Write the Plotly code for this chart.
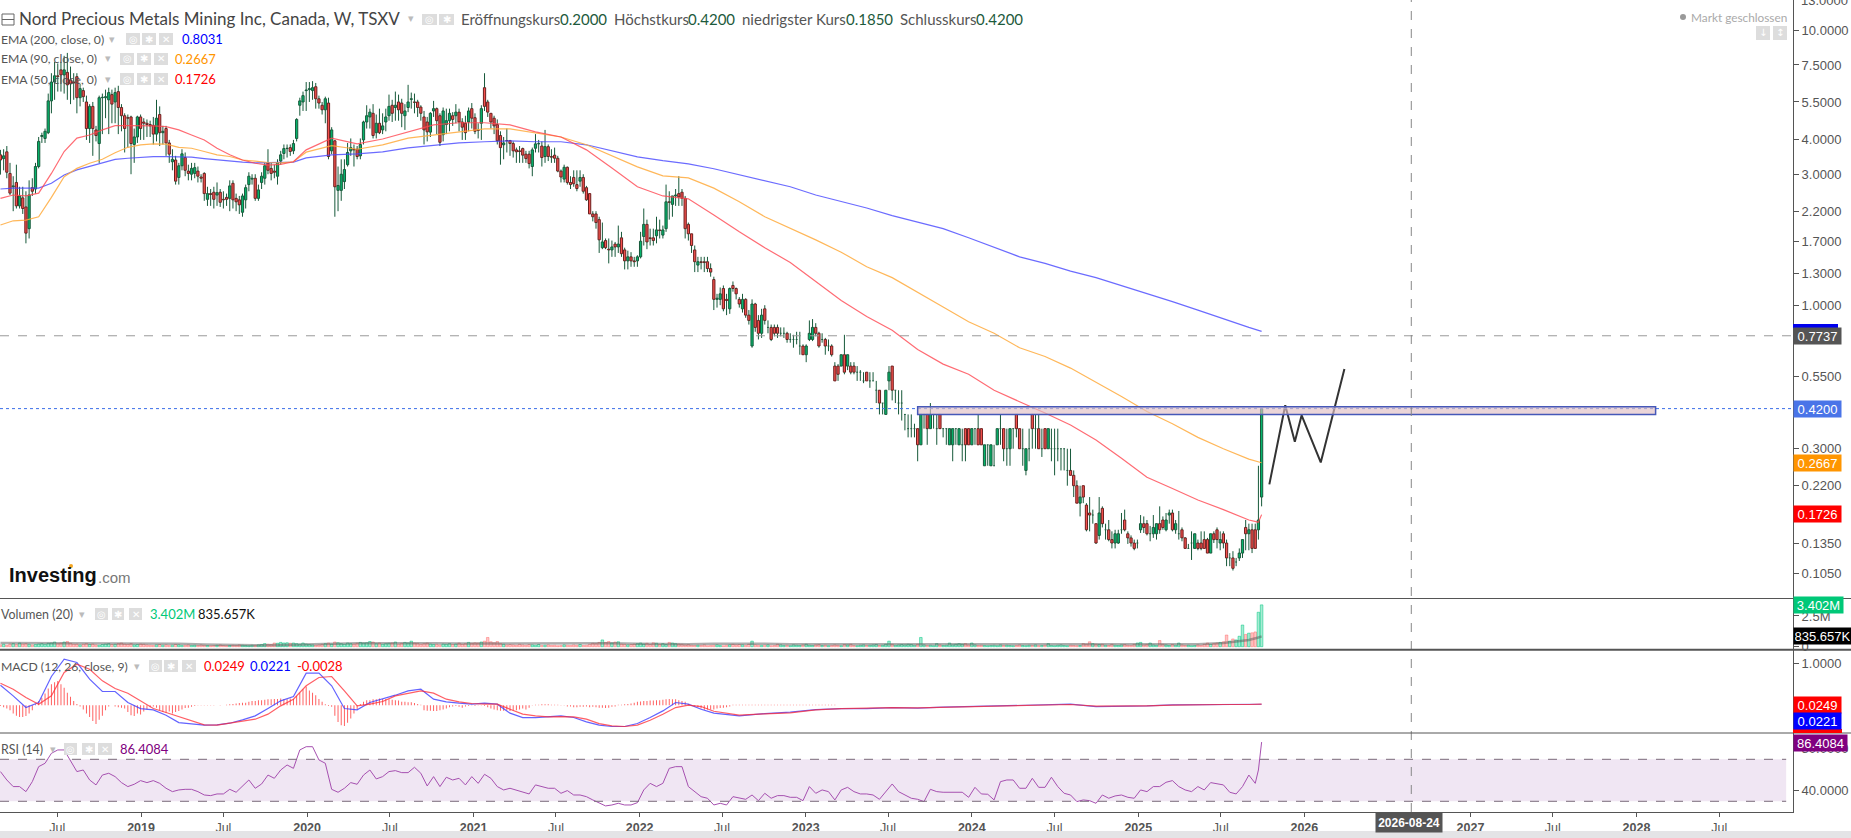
import pandas as pd
import plotly.graph_objects as go

W, H = 1851, 838
AXIS_X = 1793

# Wochenkerzen
opens = [
    3.53,3.42,3.62,3.02,2.7,2.8,2.3,2.46,2.28,1.9, 2.68,2.65,3.2,4.12,4.05,4.25,5.55,6.5,6.85,7.2,
    6.9,7.05,6.62,6.5,6.8,5.7,6.05,5.5,4.4,5.3, 4.35,3.88,5.7,5.7,5.6,5.85,5.5,6.0,5.25,4.9,
    4.82,4.85,3.85,4.1,4.85,4.65,4.6,4.55,4.52,4.2, 4.95,4.25,4.4,3.9,3.33,3.38,2.92,3.22,3.45,3.08,
    3.0,3.02,3.08,2.93,3.02,2.43,2.55,2.58,2.52,2.58, 2.43,2.47,2.45,2.78,2.45,2.42,2.18,2.42,2.75,2.88,
    2.9,2.45,2.8,2.9,3.3,3.15,3.08,2.95,3.35,3.57, 3.72,3.75,3.65,4.05,5.35,
    5.5,6.05,6.1,6.05,6.25, 5.65,5.35,5.15,5.45,3.65,3.97,2.62,2.62,2.82,3.25,
    3.65,3.7,3.7,3.5,4.0,4.65,4.85,5.0,4.25,4.6, 4.35,4.65,4.9,5.35,5.25,5.5,5.45,4.9,5.25,5.62,
    5.5,5.5,5.27,4.85,4.65,4.27,5.1,5.2,4.9,4.18, 4.55,4.7,4.9,4.9,5.05,4.65,4.6,4.65,5.2,4.82,
    4.35,4.6,6.2,5.5,5.0,4.8,4.55,4.15,3.84,3.98, 3.98,3.88,3.68,3.65,3.72,3.55,3.55,3.2,3.73,3.87,
    3.8,3.48,3.78,3.48,3.52,3.43,3.08,2.88,3.18,2.8, 2.92,2.75,2.83,2.92,2.68,2.55,2.15,2.15,2.05,
    1.62,1.72,1.6,1.59,1.67,1.63,1.76,1.59,1.45,1.5,1.45, 1.45,1.5,1.78,1.97,1.76,1.76,1.79,1.88,1.8,1.9,
    2.38,2.33,2.5,2.55,2.58,2.45,1.97,1.82,1.59,1.4, 1.44,1.44,1.44,1.36,1.24,1.05,1.05,1.15,1.05,.97,
    1.18,1.15,1.05,.97,1.05,.92,.71,1.01,.88,.79, .97,.83,.83,.83,.83,.79,.79,.79,.75,.75, .75,.71,.71,.66,
    .75,.75,.83,.79,.75,.75, .71,.71,.6,.6,.6,.66,.6,.6,.6,.57, .57,.53,.57,.53,.53,.49,.49,.44,.4,.53,
    .6,.49,.44,.44,.4,.355,.355,.355,.355,.31, .4,.4,.355,.4,.355,.4,.355,.355,.31,.31,
    .355,.31,.31,.355,.355,.31,.355,.355,.355,.26, .31,.26,.26,.31,.355,.355,.3,.3,.355,.4,
    .355,.3,.25,.3,.4,.355,.355,.3,.355,.3, .3,.3,.3,
    .3,.3,.25,.25,.24,.22,.19, .22,.187,.175,.172,.16,.145,.182,.152,.152,.14,
    .136,.136,.152,.165,.147,.142,.136,.136,.152,.16, .16,.147,.147,.147,.16,.165,.152,.172,.175,.152,
    .147,.152,.142,.13,.136,.13,.136,.136,.14,.14, .125,.147,.152,.136,.147,.136,.12,.12,.116,.12,
    .125,.155,.147,.152,.152,.152,.2,
]
closes = [
    3.38,3.5,3.05,2.56,2.72,2.3,2.5,2.25,1.83,2.52, 2.6,3.2,3.95,4.15,4.3,5.55,6.5,6.85,6.8,6.9,
    7.2,6.35,6.4,6.45,5.7,6.15,5.75,4.4,5.3,4.4, 4.15,5.7,5.72,5.75,5.95,5.4,5.95,5.25,4.9,4.4,
    4.8,3.88,4.1,4.85,4.4,4.6,4.55,4.5,4.2,4.8, 4.25,4.3,3.9,3.55,3.4,2.83,3.22,3.56,3.1,3.02,
    3.15,3.17,2.95,2.9,2.55,2.55,2.53,2.43,2.57,2.37, 2.42,2.43,2.72,2.42,2.38,2.32,2.5,2.68,2.95,2.9,
    2.45,2.63,2.95,3.22,3.1,3.02,3.05,3.3,3.53,3.72, 3.73,3.63,3.88,4.75,5.55,
    5.8,6.08,6.15,6.2,5.65, 5.45,5.15,5.65,3.48,4.35,2.7,2.73,3.0,3.12,3.6,
    3.75,3.68,3.48,3.85,4.65,4.9,5.05,4.15,4.6,4.25, 4.5,4.85,5.3,5.0,5.35,5.15,5.0,5.1,5.5,5.65,
    5.48,5.25,5.0,4.35,4.28,5.0,5.2,4.7,3.92,5.1, 4.7,5.0,4.75,5.05,4.65,4.45,4.25,5.1,4.8,4.3,
    4.33,5.2,5.3,5.05,4.65,4.5,3.97,3.75,3.9,3.97, 3.88,3.65,3.62,3.63,3.52,3.42,3.28,3.68,3.87,3.88,
    3.45,3.78,3.48,3.46,3.43,3.08,2.93,3.18,2.8,2.75, 2.77,2.66,2.92,2.6,2.42,2.15,2.1,2.0,1.73,
    1.7,1.62,1.59,1.63,1.63,1.67,1.54,1.45,1.5,1.45,1.44, 1.5,1.71,1.97,1.7,1.75,1.72,1.88,1.87,1.88,2.38,
    2.37,2.5,2.52,2.48,2.45,1.9,1.82,1.65,1.44,1.44, 1.43,1.43,1.36,1.32,1.05,1.06,1.1,.97,1.04,1.15,
    1.15,1.1,1.01,1.05,.92,.88,1.01,.83,.79,.92, .88,.83,.75,.79,.79,.79,.79,.75,.75,.75, .75,.71,.66,.71,
    .79,.83,.79,.71,.75,.71, .71,.66,.53,.56,.66,.57,.66,.57,.57,.57, .57,.53,.53,.53,.53,.49,.44,.44,.49,.57,
    .49,.49,.44,.44,.4,.355,.355,.355,.31,.4, .4,.355,.4,.4,.355,.355,.355,.355,.355,.355,
    .355,.355,.31,.31,.31,.355,.355,.31,.31,.31, .31,.31,.26,.355,.355,.3,.3,.355,.355,.355,
    .3,.3,.3,.3,.355,.355,.3,.3,.3,.355, .3,.3,.3,
    .3,.3,.25,.24,.22,.19,.2, .2,.152,.172,.172,.136,.175,.16,.152,.14,.136,
    .147,.147,.152,.152,.142,.136,.13,.136,.16,.155, .147,.147,.155,.16,.152,.155,.165,.175,.152,.16,
    .147,.142,.13,.13,.136,.147,.13,.13,.13,.125, .147,.14,.14,.14,.136,.12,.12,.11,.116,.125,
    .14,.147,.152,.13,.13,.165,.42,
]
highs = [
    3.68,3.7,3.8,3.3,2.95,3.25,2.7,2.7,2.6,2.85, 2.9,3.3,4.1,4.25,4.4,5.9,7.0,7.7,7.6,7.7,
    8.1,8.3,7.4,7.0,7.0,6.4,6.2,5.8,5.4,5.5, 4.5,5.8,5.9,6.1,6.2,6.1,6.2,6.3,5.4,5.0,
    4.95,4.9,4.4,4.9,4.95,4.8,4.75,4.7,4.85,5.6, 5.3,4.5,4.5,4.0,3.7,3.5,3.3,3.7,3.6,3.25,
    3.3,3.3,3.2,3.0,3.05,2.7,2.65,2.7,2.8,2.65, 2.6,2.55,2.85,2.85,2.55,2.5,2.55,2.75,3.05,3.0,
    3.0,2.75,3.05,3.3,3.7,3.3,3.25,3.4,3.65,3.85, 3.85,3.85,4.0,4.8,5.7,
    6.0,6.5,6.5,6.55,6.45, 5.8,5.5,5.75,5.7,4.45,4.0,3.2,3.4,3.4,3.9,
    4.05,3.85,3.8,4.05,4.7,5.35,5.2,5.4,4.95,5.2, 5.0,5.2,5.85,5.6,6.0,5.85,5.65,5.4,6.35,5.95,
    5.9,5.6,5.35,5.1,4.85,5.05,5.55,5.25,5.0,5.25, 5.2,5.2,5.05,5.4,5.2,4.8,4.9,5.25,5.45,5.0,
    4.6,5.35,7.0,5.6,5.0,4.9,4.75,4.3,4.1,4.4, 4.0,3.95,3.75,3.8,3.75,3.65,3.65,3.75,4.2,4.0,
    3.95,4.35,3.85,3.7,3.75,3.5,3.12,3.25,3.2,2.95, 3.1,3.1,3.1,3.0,2.72,2.55,2.2,2.2,2.1,
    2.0,1.75,1.75,1.72,1.7,1.95,1.85,1.62,1.58,1.56,1.5, 1.52,1.85,2.25,2.05,1.9,1.9,2.1,2.05,1.95,2.75,
    2.6,2.5,2.65,2.95,2.65,2.5,2.0,1.82,1.65,1.5, 1.5,1.5,1.5,1.42,1.27,1.1,1.16,1.18,1.1,1.16,
    1.22,1.16,1.07,1.1,1.06,.96,1.05,1.02,.92,.97, 1.0,.88,.85,.85,.85,.83,.83,.8,.79,.78, .8,.8,.72,.72,
    .88,.89,.86,.8,.79,.76, .75,.72,.62,.61,.66,.78,.66,.62,.62,.6, .58,.57,.57,.57,.57,.53,.49,.44,.49,.6,
    .6,.49,.49,.49,.4,.4,.4,.37,.355,.4, .4,.4,.44,.4,.4,.4,.355,.355,.355,.355,
    .355,.355,.355,.355,.355,.355,.355,.4,.355,.31, .31,.31,.31,.355,.4,.355,.355,.355,.355,.4,
    .355,.355,.3,.355,.4,.4,.4,.355,.355,.355, .355,.355,.355,
    .3,.3,.3,.3,.25,.23,.22, .22,.19,.2,.18,.16,.2,.185,.16,.165,.15,
    .152,.152,.175,.18,.15,.145,.14,.14,.172,.17, .165,.157,.172,.16,.185,.17,.175,.18,.18,.165,
    .178,.155,.143,.135,.15,.147,.14,.15,.15,.142, .147,.15,.155,.15,.15,.14,.125,.127,.12,.13,
    .14,.165,.16,.16,.16,.26,.42,
]
lows = [
    2.99,3.1,2.9,2.52,2.2,2.25,2.25,2.15,1.68,1.75, 2.5,2.55,3.15,3.9,3.9,4.2,5.0,5.6,6.0,6.0,
    5.9,5.6,5.4,5.6,5.0,5.3,5.5,4.0,3.9,3.5, 3.95,3.3,4.2,4.8,4.2,4.6,4.6,4.2,4.3,3.6,
    3.75,3.0,3.3,3.9,4.0,4.0,4.1,4.1,3.85,3.95, 3.8,3.85,3.5,3.3,3.1,2.75,2.75,3.1,2.95,2.85,
    2.85,2.9,2.8,2.8,2.4,2.3,2.3,2.25,2.3,2.28, 2.25,2.3,2.2,2.25,2.2,2.15,2.1,2.25,2.6,2.75,
    2.4,2.4,2.65,2.75,3.0,2.85,2.9,2.75,3.25,3.4, 3.45,3.5,3.55,3.95,4.9,
    5.1,5.1,5.5,5.6,5.2, 5.2,4.95,4.6,3.4,3.55,2.1,2.2,2.4,2.65,3.2,
    3.5,3.2,3.4,3.4,3.85,4.4,4.4,4.05,4.05,4.2, 4.2,4.3,4.7,4.65,4.7,4.7,4.45,4.35,5.05,5.2,
    5.0,4.85,4.7,3.85,3.95,4.1,4.85,4.2,3.8,3.95, 4.2,4.3,4.5,4.6,4.3,4.0,4.0,4.3,4.4,4.2,
    4.05,4.0,5.1,4.85,4.4,4.2,3.85,3.25,3.4,3.6, 3.5,3.45,3.3,3.3,3.3,3.3,3.15,2.95,3.6,3.6,
    3.2,3.3,3.35,3.3,3.3,3.05,2.8,2.8,2.75,2.65, 2.7,2.6,2.7,2.55,2.4,2.15,2.02,1.9,1.55,
    1.6,1.6,1.42,1.5,1.5,1.55,1.5,1.35,1.35,1.38,1.38, 1.38,1.48,1.65,1.6,1.65,1.65,1.68,1.75,1.75,1.85,
    2.05,2.1,2.3,2.3,2.3,1.75,1.72,1.55,1.32,1.32, 1.35,1.32,1.32,1.27,.96,.98,1.0,.95,.92,.93,
    1.12,1.05,.98,.94,.9,.85,.7,.8,.75,.76, .85,.79,.74,.77,.76,.77,.76,.73,.73,.7, .72,.66,.66,.62,
    .74,.74,.77,.7,.73,.66, .68,.65,.53,.53,.6,.56,.58,.56,.56,.53, .53,.52,.53,.5,.53,.44,.4,.4,.4,.49,
    .45,.44,.4,.38,.35,.33,.33,.33,.27,.31, .355,.31,.355,.355,.31,.355,.33,.31,.31,.27,
    .31,.31,.27,.27,.31,.31,.31,.31,.31,.26, .26,.26,.26,.31,.31,.27,.26,.26,.3,.33,
    .3,.26,.24,.27,.3,.3,.3,.28,.3,.3, .27,.24,.27,
    .25,.25,.22,.24,.2,.19,.17, .19,.15,.15,.16,.135,.14,.155,.14,.138,.13,
    .13,.135,.147,.15,.135,.132,.128,.13,.148,.148, .145,.138,.142,.14,.147,.152,.15,.16,.15,.147,
    .14,.138,.13,.13,.118,.13,.128,.128,.13,.125, .125,.136,.13,.128,.13,.112,.112,.108,.112,.117,
    .12,.128,.128,.125,.13,.14,.185,
]

# EMAs: bis Woche 92 alle 4 Wochen, dann alle 8 Wochen, dazu die letzten beiden Wochen
ema200 = [2.65,2.67,2.67,2.67,2.78,2.98,3.11,3.21,3.30,3.40,3.43,3.46,3.48,3.48,3.47,3.46,3.42,3.38,3.35,3.32,3.30,3.30,3.30,3.32,
          3.44,3.53,3.56,3.62,3.74,3.81,3.90,3.94,
          3.97,3.94,3.94,3.84,3.65,3.47,3.36,3.27,3.14,2.99,2.84,2.70,2.52,2.38,2.26,2.12,2.01,1.90,1.76,1.62,
          1.50,1.42,1.33,1.26,1.18,1.10,1.03,.96,.89,.83,.81,.8031]
ema90 = [1.96,2.03,2.04,2.10,2.47,2.94,3.15,3.29,3.40,3.59,3.76,3.84,3.87,3.86,3.76,3.73,3.63,3.53,3.48,3.38,3.35,3.31,3.30,3.33,
         3.61,3.81,3.70,3.84,4.06,4.17,4.28,4.39,
         4.39,4.24,4.10,3.84,3.50,3.19,2.96,2.91,2.67,2.38,2.10,1.91,1.73,1.56,1.38,1.26,1.11,.985,.87,.79,
         .70,.65,.59,.525,.465,.41,.37,.33,.30,.275,.268,.2667]
ema50 = [2.45,2.52,2.50,2.56,3.02,3.63,4.06,4.17,4.35,4.51,4.51,4.51,4.50,4.47,4.35,4.17,4.00,3.73,3.53,3.38,3.29,3.24,3.26,3.33,
         3.68,4.06,3.87,4.03,4.28,4.54,4.62,4.62,
         4.54,4.28,4.10,3.68,3.16,2.70,2.50,2.44,2.13,1.85,1.62,1.43,1.22,1.04,.91,.81,.69,.61,.56,.49,
         .445,.405,.366,.323,.277,.236,.215,.195,.18,.165,.162,.1726]
vol_ma = [.3,.3,.28,.26,.3,.3,.28,.24,.18,.14,.12,.14,.2,.26,.28,.28,.3,.28,.26,.26,
          .28,.3,.32,.32,.28,.24,.2,.2,.24,.26,.25,.2,.2,.22,.22,.2,.22,.2,.2,.22,
          .2,.18,.2,.2,.24,.24,.2,.2,.3,.55,.75,.8357]

volume = [
    .15,.2,.12,.22,.25,.18,.3,.22,.25,.2,.15,.18,.22,.25,.2,.28,.3,.38,.25,.3,
    .38,.42,.28,.2,.22,.15,.2,.25,.18,.22,.15,.12,.18,.22,.25,.18,.2,.25,.3,.22,
    .2,.25,.15,.18,.22,.2,.15,.12,.1,.15,.18,.12,.15,.1,.12,.18,.15,.1,.12,.15,
    .1,.12,.1,.15,.12,.1,.08,.1,.12,.15,.1,.08,.1,.12,.1,.15,.12,.1,.08,.12,
    .1,.15,.18,.25,.2,.18,.3,.28,.35,.3,.32,.28,.3,.25,.2,.3,.22,.18,.15,.12,
    .15,.2,.25,.3,.22,.38,.32,.25,.2,.3,.25,.22,.28,.35,.3,.32,.42,.38,.25,.3,
    .2,.25,.28,.3,.38,.22,.28,.35,.3,.45,.3,.28,.2,.25,.3,.22,.18,.2,.15,.22,
    .2,.25,.18,.22,.3,.2,.25,.35,.28,.32,.3,.38,.45,.75,.4,.32,.42,.25,.2,.15,
    .18,.15,.12,.2,.15,.12,.18,.15,.12,.18,.1,.12,.15,.1,.12,.08,.1,.15,.12,.1,
    .15,.12,.18,.1,.12,.2,.28,.25,.35,.55,.35,.42,.3,.38,.4,.22,.2,.15,.18,.22,
    .25,.3,.22,.28,.18,.32,.28,.2,.25,.18,.35,.3,.25,.22,.2,.15,.18,.12,.1,.12,
    .1,.15,.08,.1,.12,.15,.1,.08,.12,.15,.2,.15,.18,.15,.1,.2,.45,.15,.12,.1,
    .12,.15,.08,.1,.2,.15,.1,.12,.08,.15,.12,.1,.15,.2,.12,.1,.15,.18,.1,.12,
    .08,.1,.15,.12,.08,.18,.15,.2,.1,.08,.12,.15,.1,.12,.15,.18,.1,.12,.2,.45,
    .2,.12,.15,.18,.15,.2,.18,.12,.2,.75,.15,.1,.12,.08,.25,.15,.1,.12,.3,.15,
    .2,.25,.2,.25,.15,.3,.15,.1,.12,.1,.08,.1,.12,.08,.15,.1,.12,.1,.08,.1,
    .15,.1,.08,.12,.1,.15,.08,.1,.12,.25,.1,.08,.12,.15,.1,.08,.12,.1,.08,.1,
    .25,.2,.4,.25,.2,.18,.2,.12,.1,.2,.12,.1,.15,.18,.12,.1,.2,.3,.35,.15,
    .2,.3,.15,.12,.5,.2,.15,.1,.18,.12,.3,.15,.1,.12,.08,.1,.15,.1,.2,.3,
    .2,.25,.3,.35,.4,.95,.45,.63,.55,.85,1.76,1.0,1.1,1.13,1.2,2.8,3.402,
]

# MACD: bis Woche 220 alle 4 Wochen, dann alle 8 Wochen
macd_blue = [.478,.223,-.056,.064,.686,1.10,1.02,.622,.327,.327,.064,-.08,-.112,-.239,-.415,-.447,-.478,-.47,-.431,-.351,
             -.255,-.08,.104,.207,.766,.766,.463,-.08,-.112,.064,.144,.239,.343,.383,.144,.08,.048,.024,.048,.024,
             -.191,-.295,-.295,-.271,-.255,-.295,-.399,-.478,-.51,-.51,-.439,-.295,-.136,.064,.024,-.096,
             -.191,-.255,-.2,-.167,-.104,-.08,-.08,-.056,-.072,-.048,-.032,-.016,0,.016,.024,-.032,-.032,-.016,.008,.016,.016,.016,.03,.0221]
macd_red = [.526,.383,.183,.024,.223,.781,.981,.861,.582,.399,.287,.104,-.08,-.175,-.271,-.375,-.47,-.478,-.431,-.399,
            -.335,-.215,-.016,.144,.463,.662,.686,.343,-.016,.024,.088,.223,.287,.343,.287,.144,.08,.04,.024,.024,
            -.096,-.215,-.255,-.279,-.271,-.279,-.335,-.439,-.494,-.51,-.478,-.359,-.215,-.056,0,-.032,
            -.144,-.239,-.207,-.183,-.112,-.08,-.072,-.056,-.064,-.048,-.04,-.024,-.008,.008,.016,-.024,-.024,-.016,0,.016,.016,.016,.016,.0249]
macd_hist = [
    -.02,-.05,-.08,-.12, -.2,-.25,-.28,-.28,-.26,-.2,-.12,
    .02,.1,.18,.28,.4,.5,.55,.58,.5,.42,.3, .2,.1,.03,
    -.03,-.1,-.2,-.28,-.38,-.45,-.35,-.25,-.12, -.03,0,-.03,-.05,-.06,-.08,
    -.16,-.24,-.26,-.2,-.22,-.15,-.1,-.05, -.03,-.06,-.12,-.16,-.18,-.15,-.2,-.16,-.14,-.1,-.07,-.06,-.04,
    -.02,-.01,-.01,-.01,-.01,-.01,-.01,0,-.01,0,.01,
    .02,.03,.04,.05,.06,.06,.08,.1,.1,.12,.12,.13,.14,.14,.15,.15,.16,.15,.14,.16,.15,
    .22,.3,.38,.45,.35,.3,.24,.15,.08, .02,-.02,-.04,
    -.25,-.4,-.48,-.5,-.42,-.32,-.2,-.1,
    .03,.08,.12,.12,.14,.14,.16,.15,.15,.14,.13,.12,.11,.08,.08,.07,.07,.05,.03,.01,
    -.12,-.13,-.13,-.14,-.14,-.12,-.1,-.08,-.05, -.03,-.02,-.04,-.06,-.03,-.02,.01,-.02,-.01,
    -.01,-.02,-.05,-.08,-.1,-.12,-.13,-.13,-.12,-.14,-.12,-.12,-.1,-.08,-.1,-.06,
    -.01,.01,.01,.02,.02,.02,.01,.01,.01,-.01,
    -.01,-.03,-.03,-.05,-.05,-.04,-.04,-.03,-.05,-.04,-.05,-.06,-.06,-.07,-.06,-.04,-.03,
    .01,.01,.02,.03,.04,.06,.08,.09,.1,.1,.11,.11,.12,.12,.13,.14,.15,.14,.14,.12,.1,
    .08,.03,-.02,-.03, -.05,-.08,-.11,-.1,-.1,-.1,-.08,-.07,-.06,-.05,-.03,
    .01,.01,.01,.01,.01,.01,.01,.01,.01,.01,.01,.01,.01,.01,.01,.01,.01,.01,.01,.01,.01,.01,.01,.01,.01,.01,.01,.01,.01,.01,.01,.01,.01,
]

rsi = [
    58.3,50.3,44,44,39.2,48.7,63,66.2,75.7,78.9,78.9,68.7,58.3,59.8,50.3,45.6,55,56.7,53.5,47.8,
    44,46.2,49.7,47.8,49.7,47.1,42.4,39.2,40.8,41.4,41.4,39.2,36,35.4,37,37,41.4,38.6,44,50.3,
    42.4,46.5,55,51.9,59.8,64.6,61.4,78.9,82,82,69.4,66.2,41.4,38.6,42.4,47.8,46.2,55,59.8,51.3,
    53.5,58.3,59.2,57.3,57.3,62.4,56.7,44.6,53.5,44,52.9,50.3,51.9,45.6,53.5,47.1,55.7,51.9,44,40.8,
    42.4,40.8,39.2,37,45.6,44,42.4,42.4,37.6,40.2,36,36,34.4,31.3,28.1,25.6,26.5,28.1,26.5,26.5,
    28.7,40.8,47.1,44,47.1,61.4,63,63,44,39.2,34.4,
    32.9,26.5,28.1,26.5,34.4,33.5,31.9,36,30.6,37.6,32.9,35.4,35.4,33.8,33.8,30.6,44,37.6,40.8,39.2,
    31.3,40.8,43.3,39.2,37,37,36,31.9,39.2,46.5,39.2,36,32.9,31.9,29.7,41.4,39.2,38.6,38.6,38.6,
    38.6,33.8,43.3,37,36.7,31.3,48.7,50.3,50.3,42.4,42.4,51.9,43.3,43.3,52.9,44,37.6,36,29.7,31.3,
    30.6,28.1,36,32.9,35.1,36,33.8,32.9,40.8,39.2,44,44,48.1,49.7,44,40.8,39.2,44,40.8,47.8,
    46.5,45.6,38.6,37,44,55,47.1,59.8,86.4084,
]

price_ticks = [10,7.5,5.5,4,3,2.2,1.7,1.3,1,.55,.3,.22,.135,.105]
price_labels = ["10.0000","7.5000","5.5000","4.0000","3.0000","2.2000","1.7000","1.3000","1.0000",
                "0.5500","0.3000","0.2200","0.1350","0.1050"]

time_ticks = ["2018-07-01","2019-01-01","2019-07-01","2020-01-01","2020-07-01","2021-01-01","2021-07-01",
              "2022-01-01","2022-07-01","2023-01-01","2023-07-01","2024-01-01","2024-07-01","2025-01-01",
              "2025-07-01","2026-01-01","2027-01-01","2027-07-01","2028-01-01","2028-07-01"]
time_labels = ["Jul","<b>2019</b>","Jul","<b>2020</b>","Jul","<b>2021</b>","Jul","<b>2022</b>","Jul","<b>2023</b>",
               "Jul","<b>2024</b>","Jul","<b>2025</b>","Jul","<b>2026</b>","<b>2027</b>","Jul","<b>2028</b>","Jul"]

# gezeichnete Linie und Zone
zigzag_dates = ["2025-10-16","2025-11-20","2025-12-11","2025-12-26","2026-02-06","2026-03-30"]
zigzag_prices = [.2225,.432,.318,.397,.2675,.585]

dates = pd.date_range(end="2025-09-29", periods=len(opens), freq="7D")
WEEK_MS = 7 * 24 * 3600 * 1000
DAY = pd.Timedelta(days=1)

ema_idx = list(range(0, 96, 4)) + list(range(96, 393, 8)) + [395, 396]
ema_dates = [dates[i] for i in ema_idx]
vol_idx = list(range(0, 393, 8)) + [395, 396]
vol_dates = [dates[i] for i in vol_idx]
macd_idx = list(range(0, 224, 4)) + list(range(224, 393, 8)) + [395, 396]
macd_dates = [dates[i] for i in macd_idx]
rsi_idx = [2 * k for k in range(len(rsi) - 2)] + [395, 396]
rsi_dates = [dates[i] for i in rsi_idx]


def px(x):
    return x / W


def py(y):
    return 1 - y / H


FONT = "Liberation Sans"
NARROW = "Lato"
GREY = "#555555"

fig = go.Figure()

# Kerzenkoerper als Balken, damit die Breite stimmt
up = [i for i in range(len(opens)) if closes[i] > opens[i]]
down = [i for i in range(len(opens)) if closes[i] < opens[i]]
for idx, fill, edge in [(up, "#05b46c", "#17593a"), (down, "#f4504c", "#6b1d1d")]:
    fig.add_trace(go.Bar(
        x=[dates[i] for i in idx],
        base=[min(opens[i], closes[i]) for i in idx],
        y=[abs(closes[i] - opens[i]) for i in idx],
        width=WEEK_MS * 0.7,
        marker=dict(color=fill, line=dict(color=edge, width=1)),
        showlegend=False, yaxis="y", xaxis="x",
    ))

# Dochte und Doji
wick_x, wick_y = [], []
for i in range(len(opens)):
    top, bot = max(opens[i], closes[i]), min(opens[i], closes[i])
    wick_x += [dates[i], dates[i], None, dates[i], dates[i], None]
    wick_y += [highs[i], top, None, bot, lows[i], None]
    if top == bot:
        wick_x += [dates[i] - 2 * DAY, dates[i] + 2 * DAY, None]
        wick_y += [top, top, None]
fig.add_trace(go.Scatter(x=wick_x, y=wick_y, mode="lines", line=dict(color="#17593a", width=1),
                         showlegend=False, yaxis="y", xaxis="x"))

for vals, col in [(ema200, "rgba(70,70,255,0.8)"), (ema90, "rgba(255,170,60,0.85)"), (ema50, "rgba(255,70,80,0.8)")]:
    fig.add_trace(go.Scatter(x=ema_dates, y=vals, mode="lines", line=dict(color=col, width=1.2),
                             showlegend=False, yaxis="y", xaxis="x"))

fig.add_trace(go.Scatter(x=zigzag_dates, y=zigzag_prices, mode="lines", line=dict(color="#333333", width=2),
                         showlegend=False, yaxis="y", xaxis="x"))

# Volumen
vol_up = [closes[i] >= opens[i] for i in range(len(volume))]
fig.add_trace(go.Bar(
    x=dates[:len(volume)], y=volume, width=WEEK_MS * 0.8,
    marker=dict(color=["rgba(0,200,130,0.35)" if u else "rgba(255,90,90,0.35)" for u in vol_up],
                line=dict(color=["rgba(0,200,130,0.75)" if u else "rgba(255,90,90,0.6)" for u in vol_up], width=0.7)),
    showlegend=False, yaxis="y2", xaxis="x",
))
fig.add_trace(go.Scatter(x=vol_dates, y=vol_ma, mode="lines", line=dict(color="rgba(90,90,90,0.5)", width=2.5),
                         showlegend=False, yaxis="y2", xaxis="x"))

# MACD
fig.add_trace(go.Bar(
    x=dates[:len(macd_hist)], y=macd_hist, width=WEEK_MS * 0.3,
    marker=dict(color="rgba(255,50,50,0.8)", line=dict(width=0)),
    showlegend=False, yaxis="y3", xaxis="x",
))
fig.add_trace(go.Scatter(x=macd_dates, y=macd_blue, mode="lines", line=dict(color="rgba(60,60,255,0.8)", width=1.2),
                         showlegend=False, yaxis="y3", xaxis="x"))
fig.add_trace(go.Scatter(x=macd_dates, y=macd_red, mode="lines", line=dict(color="rgba(255,40,50,0.75)", width=1.2),
                         showlegend=False, yaxis="y3", xaxis="x"))

# RSI
fig.add_trace(go.Scatter(x=rsi_dates, y=rsi, mode="lines", line=dict(color="#a650b0", width=1),
                         showlegend=False, yaxis="y4", xaxis="x"))

axis_common = dict(side="right", anchor="x", showgrid=False, zeroline=False, showline=True, linecolor=GREY,
                   linewidth=1, ticks="outside", ticklen=5, tickcolor=GREY, automargin=False,
                   tickfont=dict(family=FONT, size=13, color=GREY), fixedrange=True)

fig.update_layout(
    width=W, height=H, margin=dict(l=0, r=0, t=0, b=0, pad=0),
    paper_bgcolor="white", plot_bgcolor="white", showlegend=False, barmode="overlay",
    xaxis=dict(domain=[0, AXIS_X / W], range=["2018-02-25", "2028-12-10"], type="date", anchor="y4", automargin=False,
               rangeslider=dict(visible=False), showgrid=False, zeroline=False, showline=True, linecolor=GREY,
               linewidth=1, ticks="outside", ticklen=4, tickcolor=GREY, tickmode="array", tickvals=time_ticks,
               ticktext=time_labels, tickfont=dict(family=FONT, size=12.5, color=GREY), fixedrange=True),
    yaxis=dict(domain=[py(598.3), 1], type="log", range=[-1.0678, 1.1118], tickmode="array",
               tickvals=price_ticks, ticktext=price_labels, **axis_common),
    yaxis2=dict(domain=[py(649), py(599)], range=[-.187, 3.88], tickmode="array", tickvals=[0, 2.5],
                ticktext=["0", "2.5M"], **axis_common),
    yaxis3=dict(domain=[py(733), py(650)], range=[-.665, 1.32], tickmode="array", tickvals=[1],
                ticktext=["1.0000"], **axis_common),
    yaxis4=dict(domain=[py(812), py(733)], range=[19.8, 95.05], tickmode="array", tickvals=[40, 80],
                ticktext=["40.0000", "80.0000"], **axis_common),
)

shapes = []
# RSI-Band
shapes.append(dict(type="rect", xref="x", yref="y4", x0="2018-02-25", x1="2028-11-25", y0=30, y1=70,
                   fillcolor="#f0e6f3", line_width=0, layer="below"))
for lvl in (30, 70):
    shapes.append(dict(type="line", xref="x", yref="y4", x0="2018-02-25", x1="2028-11-25", y0=lvl, y1=lvl,
                       line=dict(color="#7a6a7a", width=1, dash="dash")))
# Kurslinien
shapes.append(dict(type="line", xref="x", yref="y", x0="2018-02-25", x1="2028-12-10", y0=.7737, y1=.7737,
                   line=dict(color="#999999", width=1, dash="dash")))
shapes.append(dict(type="line", xref="x", yref="y", x0="2018-02-25", x1="2028-12-10", y0=.42, y1=.42,
                   line=dict(color="#3a6ee8", width=1, dash="dot")))
# Zone
shapes.append(dict(type="rect", xref="x", yref="y", x0="2023-09-04", x1="2028-02-12", y0=.40, y1=.427,
                   fillcolor="rgba(225,190,195,0.65)", line=dict(color="#4658b8", width=1.5)))
# Fadenkreuz
shapes.append(dict(type="line", xref="x", yref="paper", x0="2026-08-24", x1="2026-08-24", y0=py(812), y1=1,
                   line=dict(color="#888888", width=1, dash="dash")))
# Panel-Trenner
for y, lw in [(598.5, 1), (649.8, 2), (733, 1)]:
    shapes.append(dict(type="line", xref="paper", yref="paper", x0=0, x1=1, y0=py(y), y1=py(y),
                       line=dict(color=GREY, width=lw)))
# graue Leiste unten
shapes.append(dict(type="rect", xref="paper", yref="paper", x0=0, x1=1, y0=0, y1=py(831),
                   fillcolor="#e4e4e6", line_width=0))

icon_boxes = []


def square(x0, x1, y0, y1, glyph):
    shapes.append(dict(type="rect", xref="paper", yref="paper", x0=px(x0), x1=px(x1), y0=py(y1), y1=py(y0),
                       fillcolor="#dddddd", line_width=0))
    icon_boxes.append(((x0 + x1) / 2, (y0 + y1) / 2, glyph))


# Einstell-Symbole der Legende
for (x0, x1), g in zip([(422, 437), (439, 454)], "◎✱"):
    square(x0, x1, 14, 25, g)
for (x0, x1), g in zip([(126, 140), (142, 156), (159, 173)], "◎✱✕"):
    square(x0, x1, 33, 45, g)
for row_y in (59, 79):
    for (x0, x1), g in zip([(120, 134), (137, 151), (154, 168)], "◎✱✕"):
        square(x0, x1, row_y - 6, row_y + 6, g)
for (x0, x1), g in zip([(95, 108), (112, 124), (129, 142)], "◎✱✕"):
    square(x0, x1, 608, 620, g)
for (x0, x1), g in zip([(149, 162), (164, 178), (182, 196)], "◎✱✕"):
    square(x0, x1, 660, 672, g)
for (x0, x1), g in zip([(64, 77), (82, 95), (98, 112)], "◎✱✕"):
    square(x0, x1, 743, 755, g)
for (x0, x1), g in zip([(1756, 1770), (1773, 1787)], "↓↕"):
    square(x0, x1, 26, 40, g)
shapes.append(dict(type="rect", xref="paper", yref="paper", x0=px(2), x1=px(14), y0=py(25), y1=py(14),
                   line=dict(color="#666666", width=1), fillcolor="white"))
shapes.append(dict(type="line", xref="paper", yref="paper", x0=px(2), x1=px(14), y0=py(19.5), y1=py(19.5),
                   line=dict(color="#666666", width=1)))
shapes.append(dict(type="circle", xref="paper", yref="paper", x0=px(1680), x1=px(1686), y0=py(20), y1=py(14),
                   fillcolor="#999999", line_width=0))
# Punkt im Logo
shapes.append(dict(type="circle", xref="paper", yref="paper", x0=px(69), x1=px(73), y0=py(568), y1=py(564),
                   fillcolor="#f5a623", line_width=0))
# abgeschnittene Preisschilder
shapes.append(dict(type="rect", xref="paper", yref="paper", x0=px(AXIS_X), x1=px(1838), y0=py(328), y1=py(324),
                   fillcolor="#0000ee", line_width=0))
shapes.append(dict(type="rect", xref="paper", yref="paper", x0=px(AXIS_X), x1=px(1842), y0=py(733), y1=py(729),
                   fillcolor="#ff0000", line_width=0))
fig.update_layout(shapes=shapes)


def text(x, y, s, color="#555555", size=14, family=NARROW, anchor="left"):
    fig.add_annotation(xref="paper", yref="paper", x=px(x), y=py(y), text=s, showarrow=False, xanchor=anchor,
                       yanchor="middle", font=dict(family=family, size=size, color=color), borderpad=0, borderwidth=0)


def tag(y, s, bg, width=45):
    fig.add_annotation(xref="paper", yref="paper", x=px(AXIS_X), y=py(y), text=s, showarrow=False, xanchor="left",
                       yanchor="middle", font=dict(family=FONT, size=13, color="white"), bgcolor=bg, width=width,
                       height=14, align="center", borderpad=1)


for cx, cy, g in icon_boxes:
    text(cx, cy, g, "white", 10, "DejaVu Sans", "center")

DARK_GREEN = "#1d5a3c"
text(19, 19, "Nord Precious Metals Mining Inc, Canada, W, TSXV", "#444444", 17)
for x, s, c in [(461, "Eröffnungskurs", GREY), (560, "0.2000", DARK_GREEN), (614, "Höchstkurs", GREY),
                (688, "0.4200", DARK_GREEN), (742, "niedrigster Kurs", GREY), (846, "0.1850", DARK_GREEN),
                (900, "Schlusskurs", GREY), (976, "0.4200", DARK_GREEN)]:
    text(x, 19, s, c, 15)
text(1, 39, "EMA (200, close, 0)", GREY, 12.2)
text(182, 39, "0.8031", "#0000ff", 13)
text(1, 59, "EMA (90, close, 0)", GREY, 12.2)
text(175, 59, "0.2667", "#ff9500", 13)
text(1, 79, "EMA (50, close, 0)", GREY, 12.2)
text(175, 79, "0.1726", "#ff0000", 13)
text(1, 614, "Volumen (20)", GREY, 12.4)
text(150, 614, "3.402M", "#00c878", 13)
text(198, 614, "835.657K", "#111111", 13)
text(1, 666, "MACD (12, 26, close, 9)", GREY, 12.2)
text(204, 666, "0.0249", "#ff0000", 13)
text(250, 666, "0.0221", "#0000ff", 13)
text(297, 666, "-0.0028", "#ff0000", 13)
text(1, 749, "RSI (14)", GREY, 12.4)
text(120, 749, "86.4084", "#800080", 13)
text(1691, 17, "Markt geschlossen", "#aaaaaa", 11.8)

# oberste Preismarke, im Original am Rand abgeschnitten
text(1801, 0, "13.0000", GREY, 13, FONT)

# kleine Auswahlpfeile
for x, y in [(408, 19), (109, 39), (105, 59), (105, 79), (79, 614), (134, 666), (50, 749)]:
    text(x, y, "▾", "#bbbbbb", 11, "DejaVu Sans")

# Logo
text(9, 575, "<b>Investing</b>", "#111111", 20, FONT)
text(98, 577, ".com", "#777777", 15, FONT)

tag(336, "0.7737", "#555555")
tag(409, "0.4200", "#4a74e8")
tag(463, "0.2667", "#ff9500")
tag(514, "0.1726", "#ff0000")
tag(605, "3.402M", "#00c878", 47)
tag(636, "835.657K", "#000000", 55)
tag(705, "0.0249", "#ff0000")
tag(721, "0.0221", "#0000ff")
tag(743, "86.4084", "#800080", 51)

fig.add_annotation(xref="paper", yref="paper", x=px(1409), y=py(822), text="<b>2026-08-24</b>", showarrow=False,
                   xanchor="center", yanchor="middle", font=dict(family=FONT, size=12, color="white"),
                   bgcolor="#555555", width=64, height=17, borderpad=1)

fig.write_html("out.html", config=dict(displayModeBar=False),
               post_script="document.body.style.margin='0';document.body.style.overflow='hidden';")
